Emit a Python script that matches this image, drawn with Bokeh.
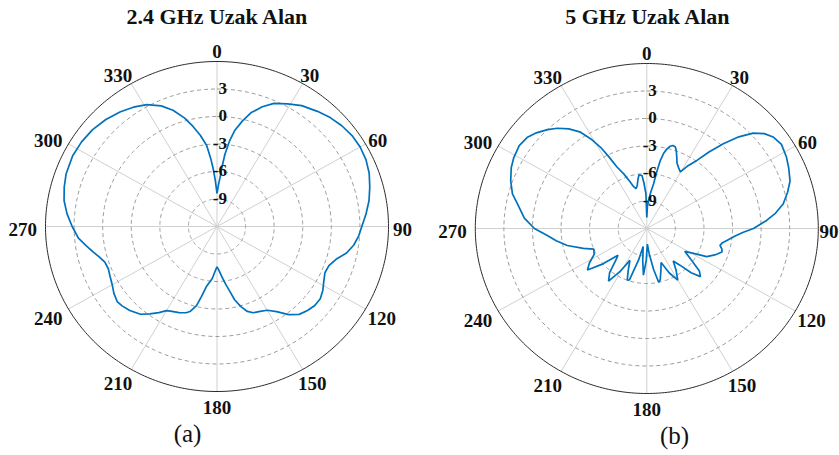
import numpy as np
from bokeh.plotting import figure
from bokeh.layouts import row
from bokeh.models import Range1d
from bokeh.embed import file_html
from bokeh.resources import INLINE
from bokeh.core.properties import value

# ---------------- data ----------------
titles = ["2.4 GHz Uzak Alan", "5 GHz Uzak Alan"]
captions = ["(a)", "(b)"]

ring_db = [-9, -6, -3, 0, 3]
ring_labels = ["-9", "-6", "-3", "0", "3"]
r_min = -12
r_max = 6

spoke_deg = [0, 30, 60, 90, 120, 150, 180, 210, 240, 270, 300, 330]
spoke_labels = ["0", "30", "60", "90", "120", "150", "180", "210", "240", "270", "300", "330"]

ang_24 = [0, 2, 3.5, 4.5, 6, 8, 10, 13, 16, 20, 24, 29, 34, 40, 45, 50, 55, 60, 65, 70,
          75, 80, 85, 90, 94, 98, 102, 106, 110, 114, 118, 122, 126, 130, 134, 138, 142,
          146, 150, 154, 158, 161, 164, 167, 169, 172, 175, 178, 180, 182, 185, 189.5,
          192, 194, 197, 199, 203, 207, 210, 213, 216.5, 220, 225, 229, 232, 236, 240,
          244.6, 248, 251.7, 255, 258, 261.4, 265, 270, 275, 280, 285, 290, 297, 303,
          309, 315, 321, 326, 331, 336, 340, 344, 347, 350, 353, 355, 356.5, 358, 360]
db_24 = [-8.4, -7.4, -6.6, -5.6, -4.1, -2.6, -1.4, -0.2, 0.9, 1.9, 2.7, 3.3, 3.9, 4.4, 4.8,
         5.1, 5.3, 5.35, 5.25, 5.0, 4.6, 4.2, 3.7, 3.2, 2.9, 2.5, 1.9, 1.0, 0.5, 0.4, 0.7,
         1.1, 1.4, 1.4, 1.2, 0.9, 0.2, -0.8, -1.45, -1.7, -1.85, -2.2, -2.9, -3.8, -4.7,
         -5.7, -6.6, -7.3, -7.6, -7.2, -6.3, -5.4, -4.2, -3.1, -2.3, -2.05, -1.8, -1.6,
         -1.4, -0.8, -0.15, 0.5, 0.95, 1.2, 1.3, 1.05, 0.7, 0.45, 0.3, 0.4, 0.8, 1.3, 1.9,
         2.6, 3.2, 3.8, 4.3, 4.6, 4.85, 5.0, 4.95, 4.8, 4.5, 4.1, 3.7, 3.2, 2.4, 1.5, 0.3,
         -0.8, -1.9, -3.1, -4.6, -5.8, -7.0, -8.4]

ang_5 = [0, 1.5, 3.6, 6, 8.3, 9.5, 10.8, 12.2, 13.7, 15.3, 16.8, 18.5, 20, 22, 24, 26.5,
         29.7, 32, 35.3, 38, 41, 44, 47, 50, 53, 57, 62, 66, 71, 75, 79.4, 83, 86, 90,
         92.3, 95, 98.9, 101, 103.5, 106, 108, 112, 116, 119, 122, 127, 130, 133, 136,
         139, 142, 146, 150, 154, 158, 162, 166, 168, 171, 175, 178, 181, 184, 187, 191,
         194, 198, 200, 203, 207, 211, 215, 219, 223, 226, 230, 234, 238, 243, 248, 252,
         257.5, 262, 265.8, 270, 275, 281, 285, 290, 295, 299, 304, 308.5, 312, 316,
         319.4, 323, 326.5, 329, 331.3, 333, 335, 338, 341, 343, 345.4, 348, 350, 352,
         355, 356.5, 358.6, 360]
db_5 = [-10.8, -9.6, -8.9, -8.0, -7.1, -5.8, -4.45, -3.6, -3.06, -2.7, -2.54, -2.6, -2.95,
        -3.6, -4.2, -4.55, -4.9, -4.0, -2.9, -1.4, 0.24, 1.9, 3.26, 4.1, 4.6, 4.85, 4.6,
        4.3, 3.9, 3.3, 2.56, 1.6, 0.6, -0.8, -1.86, -2.7, -3.5, -3.9, -4.1, -3.8, -3.7,
        -4.3, -5.0, -6.4, -7.3, -6.0, -4.8, -4.3, -5.3, -6.7, -7.5, -6.5, -5.5, -6.6,
        -8.0, -7.2, -6.2, -6.0, -7.5, -9.3, -10.3, -8.5, -6.9, -8.5, -10.0, -8.5, -6.1,
        -6.0, -7.0, -8.1, -6.5, -5.0, -5.8, -7.2, -7.8, -6.0, -4.3, -4.9, -5.8, -6.0,
        -5.0, -3.45, -2.4, -1.53, -0.2, 0.9, 1.8, 2.6, 3.2, 3.7, 3.96, 4.15, 4.0, 3.6,
        3.0, 2.4, 1.6, 0.6, -0.6, -1.9, -3.2, -4.6, -5.6, -6.6, -7.2, -7.5, -7.2, -6.6,
        -6.1, -6.2, -7.0, -8.2, -10.8]

# ---------------- layout / style ----------------
H = 455
RX_PX = 171.5
RY_PX = 165.0
SERIF = value("Liberation Serif")
CURVE = "#0072BD"
ANG_FONT_PX = 19
DIGIT_W = 0.5 * ANG_FONT_PX


def panel(W, cx, cy, ang, db, title, title_xy, caption, caption_xy):
    span = r_max - r_min
    sx = RX_PX / span
    sy = RY_PX / span
    p = figure(width=W, height=H,
               x_range=Range1d(-cx / sx, (W - cx) / sx),
               y_range=Range1d(-(H - cy) / sy, cy / sy),
               output_backend="svg", toolbar_location=None,
               x_axis_location=None, y_axis_location=None,
               min_border=0, min_border_left=0, min_border_right=0,
               min_border_top=0, min_border_bottom=0)
    p.grid.visible = False
    p.outline_line_color = None
    p.background_fill_color = "white"
    p.border_fill_color = "white"

    def to_data(px, py):
        return (px - cx) / sx, (cy - py) / sy

    # spokes
    sr = np.radians(spoke_deg)
    p.segment(x0=0, y0=0, x1=span * np.sin(sr), y1=span * np.cos(sr),
              line_color="#d0d0d0", line_width=1)

    # rings
    t = np.linspace(0, 2 * np.pi, 361)
    xs = [list((d - r_min) * np.sin(t)) for d in ring_db]
    ys = [list((d - r_min) * np.cos(t)) for d in ring_db]
    p.multi_line(xs=xs, ys=ys, line_color="#9a9a9a", line_width=1, line_dash="4 3")
    p.line(span * np.sin(t), span * np.cos(t), line_color="#2b2b2b", line_width=1)

    # pattern
    a = np.radians(np.array(ang, dtype=float))
    r = np.clip(np.array(db, dtype=float) - r_min, 0, None)
    p.line(r * np.sin(a), r * np.cos(a), line_color=CURVE, line_width=1.7)

    # radial tick labels
    p.text(x=[0] * len(ring_db), y=[d - r_min for d in ring_db], text=ring_labels,
           text_font=SERIF, text_font_style="bold", text_font_size="17px",
           text_color="#111111", text_align="right", text_baseline="alphabetic",
           x_offset=10, y_offset=-1)

    # angular labels (placed just outside the outer circle)
    lx, ly = [], []
    for deg, lab in zip(spoke_deg, spoke_labels):
        th = np.radians(deg)
        w = DIGIT_W * len(lab)
        px = cx + (176 + w / 2) * np.sin(th) + (-4 if np.sin(th) < -0.01 else 0)
        px = min(px, W - 1 - w / 2)
        py = cy + 3 - (172 + 6) * np.cos(th)
        dx, dy = to_data(px, py)
        lx.append(dx)
        ly.append(dy)
    p.text(x=lx, y=ly, text=spoke_labels,
           text_font=SERIF, text_font_style="bold", text_font_size=f"{ANG_FONT_PX}px",
           text_color="#111111", text_align="center", text_baseline="middle")

    tx, ty = to_data(*title_xy)
    p.text(x=[tx], y=[ty], text=[title], text_font=SERIF, text_font_style="bold",
           text_font_size="22px", text_color="#111111", text_align="center",
           text_baseline="middle")
    cx_, cy_ = to_data(*caption_xy)
    p.text(x=[cx_], y=[cy_], text=[caption], text_font=SERIF, text_font_style="normal",
           text_font_size="25px", text_color="#111111", text_align="center",
           text_baseline="middle")
    return p


p1 = panel(420, 216.5, 226.0, ang_24, db_24, titles[0], (217, 16), captions[0], (187, 433))
p2 = panel(419, 226.3, 228.0, ang_5, db_5, titles[1], (227.5, 16), captions[1], (254, 435))

layout = row(p1, p2, spacing=0)
open("out.html", "w").write(file_html(layout, INLINE))
